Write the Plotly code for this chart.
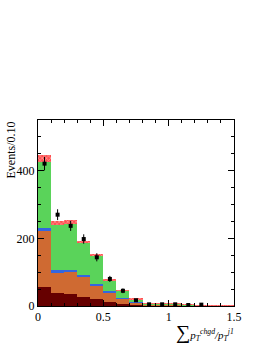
import plotly.graph_objects as go

bin_centers = [0.05, 0.15, 0.25, 0.35, 0.45, 0.55, 0.65, 0.75, 0.85, 0.95, 1.05, 1.15, 1.25, 1.35, 1.45]
dark_red = [56, 37, 35, 27, 20, 12, 6, 3, 1.5, 1, 1, 1, 0.5, 0.3, 0.3]
orange = [166, 62, 66, 58, 42, 29, 17, 7, 2.5, 2, 2, 1, 0.5, 0.2, 0.2]
blue = [10, 7, 6, 7, 4, 3, 2, 1, None, None, None, None, None, None, None]
green = [195, 134, 136, 95, 84, 32, 20, 9, 4, 4, 3, 3, 1, 0.5, 0.5]
uncert = [19, 10, 11, 6, 4, 4, 2, 1, 0.5, 0.5, 0.5, 0.5, 0.3, 0.2, 0.2]
data_vals = [421, 270, 237, 198, 144, 80, 45, 17, 5, 5, 5, 3, 4, None, None]
data_errs = [20, 16, 15, 14, 12, 9, 7, 4, 2, 2, 2, 2, 2, 0, 0]

L, R, T, B = 38, 234, 120, 306
W, H = R - L, B - T

def px(x):
    return (x - L) / W

def py(y):
    return (B - y) / H

fig = go.Figure()
for vals, col in [(dark_red, "#660000"), (orange, "#cf6a32"), (blue, "#3366e0"), (green, "#5ad35a")]:
    fig.add_trace(go.Bar(x=bin_centers, y=vals, width=0.1, marker=dict(color=col, line=dict(width=0)),
                         showlegend=False))
fig.add_trace(go.Bar(x=bin_centers, y=uncert, width=0.1,
                     marker=dict(color="#ff5555", line=dict(width=0),
                                 pattern=dict(shape="x", fgcolor="#ffffff", bgcolor="#ff5050", size=3, solidity=0.35)),
                     showlegend=False))
fig.add_trace(go.Scatter(x=bin_centers, y=data_vals, mode="markers",
                         marker=dict(color="black", size=4, symbol="square"),
                         error_y=dict(array=data_errs, color="black", thickness=1, width=0),
                         showlegend=False))

axis_common = dict(showline=True, linecolor="black", linewidth=1, mirror="allticks", automargin=False,
                   ticks="inside", ticklen=6, tickcolor="black", showgrid=False, zeroline=False,
                   layer="above traces",
                   tickfont=dict(family="Liberation Serif", size=12, color="black"))

serif = "Liberation Serif"
annotations = [
    dict(text="Events/0.10", xref="paper", yref="paper", x=px(10), y=1.0, xanchor="center",
         yanchor="top", textangle=-90, showarrow=False,
         font=dict(family=serif, size=12, color="black")),
    dict(text="<span style='font-size:20px'>∑</span><i>p<sub>T</sub><sup>chgd</sup>/p<sub>T</sub><sup>j1</sup></i>",
         xref="paper", yref="paper", x=px(236), y=py(332), xanchor="right", yanchor="middle",
         showarrow=False, font=dict(family=serif, size=11, color="black")),
]

fig.update_layout(
    barmode="stack", bargap=0,
    width=266, height=344,
    margin=dict(l=L, r=266 - R, t=T, b=344 - B, autoexpand=False),
    plot_bgcolor="white", paper_bgcolor="white",
    xaxis=dict(range=[0, 1.5], tickvals=[0, 0.5, 1, 1.5], ticktext=["0", "0.5", "1", "1.5"],
               minor=dict(dtick=0.1, ticks="inside", ticklen=3, tickcolor="black"), **axis_common),
    yaxis=dict(range=[0, 550], tickvals=[0, 200, 400], ticktext=["0", "200", "400"],
               minor=dict(dtick=50, ticks="inside", ticklen=3, tickcolor="black"), **axis_common),
    annotations=annotations,
)
fig.write_html("out.html", config={"displayModeBar": False},
               post_script="document.body.style.margin='0';document.body.style.padding='0';")
